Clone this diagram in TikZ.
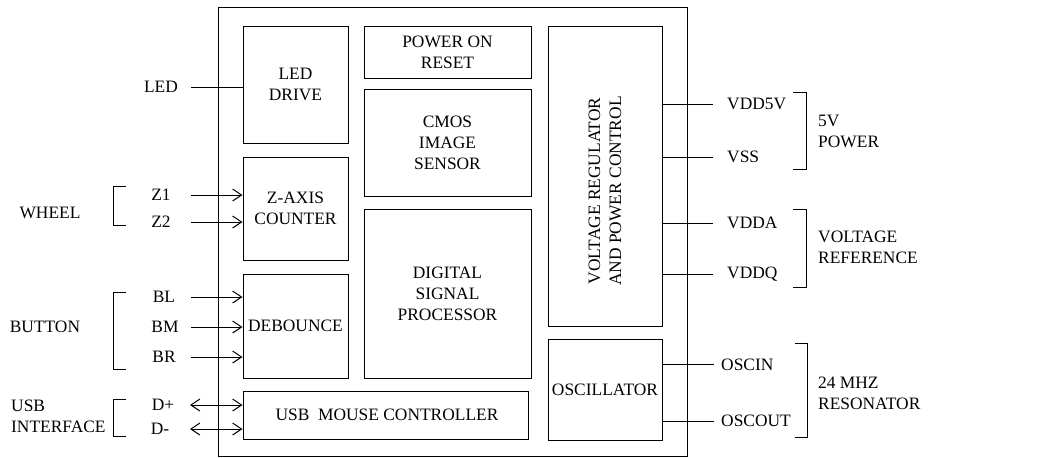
\documentclass[tikz,border=0pt]{standalone}
\usepackage{fontspec}
\setmainfont{Liberation Serif}
\usetikzlibrary{arrows.meta}
\begin{document}
\begin{tikzpicture}[x=1pt,y=-1pt,
  every node/.style={font=\fontsize{17.4}{21}\selectfont, inner sep=0pt},
  blk/.style={draw, line width=1pt, align=center, anchor=center},
  wire/.style={line width=1pt},
  arr/.style={line width=1pt, -{Straight Barb[length=9pt,width=12pt,line width=1pt]}},
  darr/.style={line width=1pt, {Straight Barb[length=9pt,width=12pt,line width=1pt]}-{Straight Barb[length=9pt,width=12pt,line width=1pt]}},
  brk/.style={line width=1pt},
  lab/.style={anchor=center},
  labl/.style={anchor=west, align=left}]
\useasboundingbox (0,0) rectangle (1053,458);
\node[draw, line width=1pt, minimum width=469pt, minimum height=449pt] (outer) at (452.5,231.5) {};
% blocks
\node[blk, minimum width=105pt, minimum height=117pt] (led) at (295.5,84.5) {LED\\DRIVE};
\node[blk, minimum width=167pt, minimum height=52pt] (por) at (447.5,52) {POWER ON\\RESET};
\node[blk, minimum width=167pt, minimum height=107pt] (cmos) at (447.5,142.5) {CMOS\\IMAGE\\SENSOR};
\node[blk, minimum width=114pt, minimum height=300pt] (vreg) at (605,176) {};
\node[rotate=90, align=center] (vregt) at (605,191) {VOLTAGE REGULATOR\\AND POWER CONTROL};
\node[blk, minimum width=105pt, minimum height=103pt] (zax) at (295.5,208.5) {Z-AXIS\\COUNTER};
\node[blk, minimum width=105pt, minimum height=104pt] (deb) at (295.5,326) {DEBOUNCE};
\node[blk, minimum width=167pt, minimum height=169pt] (dsp) at (447.5,293.5) {DIGITAL\\SIGNAL\\PROCESSOR};
\node[blk, minimum width=285pt, minimum height=48pt] (usb) at (385.5,415) {};
\node (usbt) at (387,415) {USB\ \ MOUSE CONTROLLER};
\node[blk, minimum width=114pt, minimum height=101pt] (osc) at (605,389.5) {OSCILLATOR};
% left labels
\node[lab] (ledl) at (161,87) {LED};
\node[lab] (z1) at (161,195) {Z1};
\node[lab] (z2) at (161,222) {Z2};
\node[lab] (bl) at (164,297) {BL};
\node[lab] (bm) at (165,327) {BM};
\node[lab] (br) at (164,357) {BR};
\node[lab] (dp) at (163,405) {D+};
\node[lab] (dm) at (160,429) {D-};
\node[lab] (wheel) at (50,213) {WHEEL};
\node[lab] (button) at (45,327) {BUTTON};
\node[labl] (usbi) at (11,416) {USB\\INTERFACE};
% left wire ends
\coordinate (cled) at (191,87);
\coordinate (cz1) at (191,195);
\coordinate (cz2) at (191,222);
\coordinate (cbl) at (191,297);
\coordinate (cbm) at (191,327);
\coordinate (cbr) at (191,357);
\coordinate (cdp) at (190,405);
\coordinate (cdm) at (190,429);
\draw[wire] (cled) -- (cled -| led.west);
\draw[arr] (cz1) -- (cz1 -| zax.west);
\draw[arr] (cz2) -- (cz2 -| zax.west);
\draw[arr] (cbl) -- (cbl -| deb.west);
\draw[arr] (cbm) -- (cbm -| deb.west);
\draw[arr] (cbr) -- (cbr -| deb.west);
\draw[darr] (cdp) -- (cdp -| usb.west);
\draw[darr] (cdm) -- (cdm -| usb.west);
% left brackets
\draw[brk] (126,186) -- (113,186) -- (113,225) -- (126,225);
\draw[brk] (126,292) -- (113,292) -- (113,369) -- (126,369);
\draw[brk] (126,399) -- (113,399) -- (113,436) -- (126,436);
% right labels
\node[labl] (vdd5) at (727,104) {VDD5V};
\node[labl] (vss) at (727,157) {VSS};
\node[labl] (vdda) at (727,223) {VDDA};
\node[labl] (vddq) at (727,274) {VDDQ};
\node[labl] (oscin) at (721,365) {OSCIN};
\node[labl] (oscout) at (721,421) {OSCOUT};
\node[labl] (p5) at (818,131) {5V\\POWER};
\node[labl] (vref) at (818,247) {VOLTAGE\\REFERENCE};
\node[labl] (res) at (818,393) {24 MHZ\\RESONATOR};
% right wire ends
\coordinate (cvdd5) at (713,104);
\coordinate (cvss) at (713,157);
\coordinate (cvdda) at (713,223);
\coordinate (cvddq) at (713,274);
\coordinate (coscin) at (714,364);
\coordinate (coscout) at (714,421);
\draw[wire] (vreg.east |- cvdd5) -- (cvdd5);
\draw[wire] (vreg.east |- cvss) -- (cvss);
\draw[wire] (vreg.east |- cvdda) -- (cvdda);
\draw[wire] (vreg.east |- cvddq) -- (cvddq);
\draw[wire] (osc.east |- coscin) -- (coscin);
\draw[wire] (osc.east |- coscout) -- (coscout);
% right brackets
\draw[brk] (793,92) -- (806,92) -- (806,169) -- (793,169);
\draw[brk] (793,209) -- (806,209) -- (806,287) -- (793,287);
\draw[brk] (795,343) -- (807,343) -- (807,437) -- (795,437);
\end{tikzpicture}
\end{document}
